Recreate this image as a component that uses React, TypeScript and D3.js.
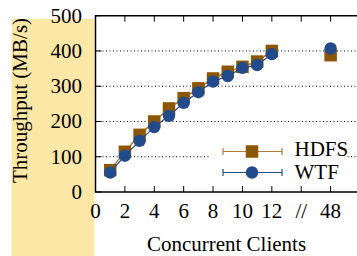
import React from 'react';
import * as d3 from 'd3';

// x positions: 1..12 real, 16 stands for 48 clients (after the // break)
const clients = [1, 2, 3, 4, 5, 6, 7, 8, 9, 10, 11, 12];
const hdfs = [62, 114, 162, 200, 237, 266, 294, 322, 341, 355, 370, 400];
const wtf = [55, 103, 145, 184, 216, 253, 283, 313, 329, 352, 360, 391];
const farPos = 16;
const hdfsFar = 388;
const wtfFar = 407;

const xTickPos = [0, 2, 4, 6, 8, 10, 12, 14, 16, 18];
const xTickLabels = ['0', '2', '4', '6', '8', '10', '12', '//', '48', ''];
const yTicks = [0, 100, 200, 300, 400, 500];

const W = 357;
const H = 256;
const FONT = 'Liberation Serif, Times New Roman, serif';
const FS = 21;

const brown = '#8c5700';
const brownLine = '#b07a35';
const blue = '#224b8b';

export default function App() {
  const x = d3.scaleLinear().domain([0, 18]).range([95.5, 360]);
  const y = d3.scaleLinear().domain([0, 500]).range([192, 15.7]);

  const line = d3.line<[number, number]>().x(d => x(d[0])).y(d => y(d[1]));
  const hdfsPts: [number, number][] = clients.map((c, i) => [c, hdfs[i]]);
  const wtfPts: [number, number][] = clients.map((c, i) => [c, wtf[i]]);

  const sq = 12.5;
  const r = 6.2;
  const left = x(0);
  const right = x(18);
  const top = y(500);
  const bottom = y(0);

  const legX1 = 223, legX2 = 282, legM = 252;
  const legY1 = 151.5, legY2 = 172.5;

  return (
    <svg width={W} height={H} style={{ position: 'absolute', left: 0, top: 0, background: '#fff', fontFamily: FONT }}>
      <rect x={11.5} y={19} width={83} height={H - 19} fill="#fde7a7" />

      {/* grid */}
      {yTicks.filter(t => t > 0 && t < 500).map(t => (
        <line key={t} x1={left} x2={right} y1={y(t)} y2={y(t)} stroke="#000" strokeWidth={1}
          strokeDasharray="1,2.5" />
      ))}

      {/* legend background */}
      <rect x={210} y={140} width={137} height={44} fill="#fff" />

      {/* ticks */}
      {xTickPos.map(t => (
        <g key={t}>
          <line x1={x(t)} x2={x(t)} y1={bottom} y2={bottom - 6} stroke="#000" />
          <line x1={x(t)} x2={x(t)} y1={top} y2={top + 6} stroke="#000" />
        </g>
      ))}
      {yTicks.map(t => (
        <line key={t} x1={left} x2={left + 6} y1={y(t)} y2={y(t)} stroke="#000" />
      ))}

      {/* series */}
      <path d={line(hdfsPts) || ''} fill="none" stroke={brownLine} strokeWidth={1.5} />
      {hdfsPts.concat([[farPos, hdfsFar]]).map((p, i) => (
        <rect key={i} x={x(p[0]) - sq / 2} y={y(p[1]) - sq / 2} width={sq} height={sq} fill={brown} />
      ))}
      <path d={line(wtfPts) || ''} fill="none" stroke={blue} strokeWidth={1.2} />
      {wtfPts.concat([[farPos, wtfFar]]).map((p, i) => (
        <circle key={i} cx={x(p[0])} cy={y(p[1])} r={r} fill={blue} />
      ))}

      {/* frame */}
      <path d={`M${right},${top}H${left}V${bottom}H${right}`} fill="none" stroke="#000" strokeWidth={1.5} />

      {/* legend */}
      <g>
        <line x1={legX1} x2={legX2} y1={legY1} y2={legY1} stroke={brownLine} strokeWidth={1.2} />
        <line x1={legX1} x2={legX1} y1={legY1 - 3.5} y2={legY1 + 3.5} stroke={brownLine} strokeWidth={1.2} />
        <line x1={legX2} x2={legX2} y1={legY1 - 3.5} y2={legY1 + 3.5} stroke={brownLine} strokeWidth={1.2} />
        <rect x={legM - sq / 2} y={legY1 - sq / 2} width={sq} height={sq} fill={brown} />
        <text x={294.5} y={156} fontSize={FS}>HDFS</text>
        <line x1={legX1} x2={legX2} y1={legY2} y2={legY2} stroke={blue} strokeWidth={1.2} />
        <line x1={legX1} x2={legX1} y1={legY2 - 3.5} y2={legY2 + 3.5} stroke={blue} strokeWidth={1.2} />
        <line x1={legX2} x2={legX2} y1={legY2 - 3.5} y2={legY2 + 3.5} stroke={blue} strokeWidth={1.2} />
        <circle cx={legM} cy={legY2} r={r} fill={blue} />
        <text x={294.5} y={179} fontSize={FS}>WTF</text>
      </g>

      {/* tick labels */}
      {yTicks.map(t => (
        <text key={t} x={82} y={y(t) + 7} fontSize={FS} textAnchor="end">{t}</text>
      ))}
      {xTickPos.map((t, i) => (
        <text key={t} x={x(t)} y={218} fontSize={FS} textAnchor="middle">{xTickLabels[i]}</text>
      ))}

      <text x={226.5} y={251} fontSize={FS} textAnchor="middle">Concurrent Clients</text>
      <text transform="translate(26.5,100.5) rotate(-90)" fontSize={FS} textAnchor="middle">
        Throughput (MB/s)
      </text>
    </svg>
  );
}
